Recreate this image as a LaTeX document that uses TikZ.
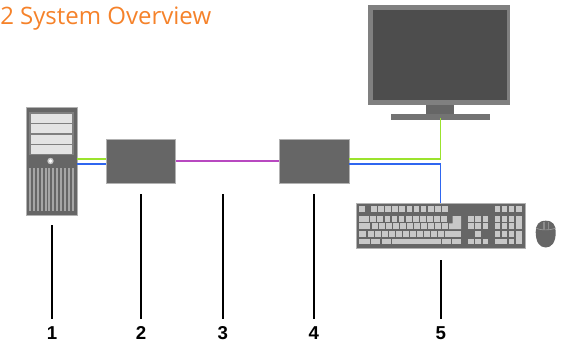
\documentclass[tikz,border=0pt]{standalone}
\usepackage{fontspec}
\setmainfont{Open Sans}
\newfontfamily\numfont{Liberation Sans}
\usepackage{xcolor}
\definecolor{bodygray}{HTML}{666666}
\definecolor{keygray}{HTML}{C8C8C8}
\definecolor{baygray}{HTML}{E4E4E4}
\definecolor{bezelgray}{HTML}{808080}
\definecolor{screengray}{HTML}{4D4D4D}
\definecolor{titleorange}{HTML}{F5822A}
\definecolor{linegreen}{HTML}{9BE32D}
\definecolor{lineblue}{HTML}{2F66F0}
\definecolor{linepurple}{HTML}{B848C0}
\tikzset{
	device/.style={rectangle,fill=bodygray,draw=black!30,line width=0.4pt,inner sep=0pt},
	leader/.style={black,line width=1.25pt},
	numlabel/.style={font=\numfont\bfseries\fontsize{14}{15}\selectfont,inner sep=0pt},
	greencable/.style={linegreen,line width=1.4pt},
	bluecable/.style={lineblue,line width=1.2pt},
	purplecable/.style={linepurple,line width=1.15pt}
}
\begin{document}
\begin{tikzpicture}[x=0.75pt,y=-0.75pt]
	\useasboundingbox (0,0) rectangle (563,342);
	\node[anchor=base west,inner sep=0pt,text=titleorange,font=\fontsize{18}{20}\selectfont] (title) at (0,25) {2 System Overview};
	% computer
	\node[device,minimum width=37.9pt,minimum height=81pt] (pc) at (51.75,161.25) {};
	\fill[bezelgray] (29,112) rectangle (74,155);
	\foreach \y in {114,124.5,135,145}
		\fill[baygray] (31,\y) rectangle (72,\y+8.7);
	\fill[keygray] (50.5,161) circle (3.2);
	\fill[white] (50.5,161) circle (1.9);
	\foreach \i in {0,...,11}
		\fill[black!35] (29+\i*3.88,168) rectangle (31+\i*3.88,210.5);
	% extenders
	\node[device,minimum width=52pt,minimum height=32.6pt] (tx) at (140.75,161.25) {};
	\node[device,minimum width=52pt,minimum height=32.6pt] (rx) at (314.25,161.25) {};
	% monitor
	\node[rectangle,fill=bezelgray,inner sep=0pt,minimum width=106.5pt,minimum height=75pt] (mon) at (439,55) {};
	\fill[screengray] (373,10) rectangle (507,100);
	\node[rectangle,fill=bodygray,inner sep=0pt,minimum width=21pt,minimum height=7pt] (neck) at (440,109.5) {};
	\node[rectangle,fill=bezelgray!90!black,inner sep=0pt,minimum width=74.25pt,minimum height=4.1pt] (foot) at (440.5,116.8) {};
	% keyboard
	\node[device,minimum width=126.75pt,minimum height=33.75pt] (kbd) at (440.5,225.5) {};
	\fill[keygray] (359.3,206.3) rectangle (365,212);
	\foreach \i in {0,...,10}
		\fill[keygray] (371+\i*7.1,206.3) rectangle (376.7+\i*7.1,212);
	\fill[keygray] (359.3,216) rectangle (368.5,221.7);
	\foreach \i in {0,...,10}
		\fill[keygray] (370.3+\i*7.1,216) rectangle (376+\i*7.1,221.7);
	\fill[keygray] (359.3,223.3) rectangle (370,229);
	\foreach \i in {0,...,10}
		\fill[keygray] (372+\i*7.02,223.3) rectangle (377.7+\i*7.02,229);
	\fill[keygray] (359.3,231) rectangle (366,236.7);
	\foreach \i in {0,...,11}
		\fill[keygray] (368+\i*7.02,231) rectangle (373.7+\i*7.02,236.7);
	\fill[keygray] (449,231) rectangle (461,236.7);
	\fill[keygray] (452.7,216) -- (461,216) -- (461,229) -- (449,229) -- (449,223.3) -- (452.7,223.3) -- cycle;
	\fill[keygray] (359.3,238.7) rectangle (370,244);
	\fill[keygray] (371,238.7) rectangle (380,244);
	\fill[keygray] (381.7,238.7) rectangle (391,244);
	\fill[keygray] (391.7,238.7) rectangle (441,244);
	\fill[keygray] (442,238.7) rectangle (451,244);
	\fill[keygray] (452,238.7) rectangle (461,244);
	\foreach \x in {468.3,475.3,482.7}{
		\fill[keygray] (\x,216) rectangle (\x+5.2,221.7);
		\fill[keygray] (\x,223.3) rectangle (\x+5.2,229);
		\fill[keygray] (\x,238.7) rectangle (\x+5.2,244);
	}
	\fill[keygray] (475.3,231) rectangle (480.5,236.7);
	\foreach \x in {495,502.2,509.2}{
		\fill[keygray] (\x,206.3) rectangle (\x+5.2,212);
		\fill[keygray] (\x,216) rectangle (\x+5.2,221.7);
		\fill[keygray] (\x,223.3) rectangle (\x+5.2,229);
		\fill[keygray] (\x,231) rectangle (\x+5.2,236.7);
	}
	\fill[keygray] (516,206.3) rectangle (521.7,212);
	\fill[keygray] (516,216) rectangle (521.7,229);
	\fill[keygray] (516,231) rectangle (521.7,244);
	\fill[keygray] (495,238.7) rectangle (507.4,244);
	\fill[keygray] (509.2,238.7) rectangle (514.4,244);
	% mouse
	\fill[bodygray] (545.7,220.7) .. controls (553,220.7) and (555.7,225) .. (555.7,232) .. controls (555.7,242) and (552,247.5) .. (545.7,247.5) .. controls (539.5,247.5) and (535.7,242) .. (535.7,232) .. controls (535.7,225) and (538.5,220.7) .. (545.7,220.7) -- cycle;
	\draw[black!40,line width=0.5pt] (535.9,228) .. controls (540,230.5) and (551,230.5) .. (555.5,228);
	\fill[black!45] (543,221.5) rectangle (544.5,229.5);
	\fill[black!45] (547.5,221.5) rectangle (549,229.5);
	% end points of the cables
	\coordinate (pcg) at (pc.east |- 0,159);
	\coordinate (pcb) at (pc.east |- 0,164);
	\coordinate (txg) at (tx.west |- 0,159);
	\coordinate (txb) at (tx.west |- 0,164);
	\coordinate (rxg) at (rx.east |- 0,159);
	\coordinate (rxb) at (rx.east |- 0,164);
	\coordinate (mong) at (440.5,118.5);
	\coordinate (kbdb) at (440.5,203);
	\draw[greencable] (pcg) -- (txg);
	\draw[bluecable] (pcb) -- (txb);
	\draw[purplecable] (tx) -- (rx);
	\draw[greencable] (rxg) -| (mong);
	\draw[bluecable] (rxb) -| (kbdb);
	% numbers
	\node[numlabel] (n1) at (52,332.7) {1};
	\node[numlabel] (n2) at (141,332.7) {2};
	\node[numlabel] (n3) at (222.7,332.7) {3};
	\node[numlabel] (n4) at (313.7,332.7) {4};
	\node[numlabel] (n5) at (440.7,332.7) {5};
	\coordinate (s1) at (52,225);
	\coordinate (s2) at (141,194);
	\coordinate (s3) at (222.7,194);
	\coordinate (s4) at (313.7,194);
	\coordinate (s5) at (440.7,260);
	\foreach \i in {1,...,5}
		\draw[leader] (s\i) -- (n\i.center |- 0,318.5);
\end{tikzpicture}
\end{document}
